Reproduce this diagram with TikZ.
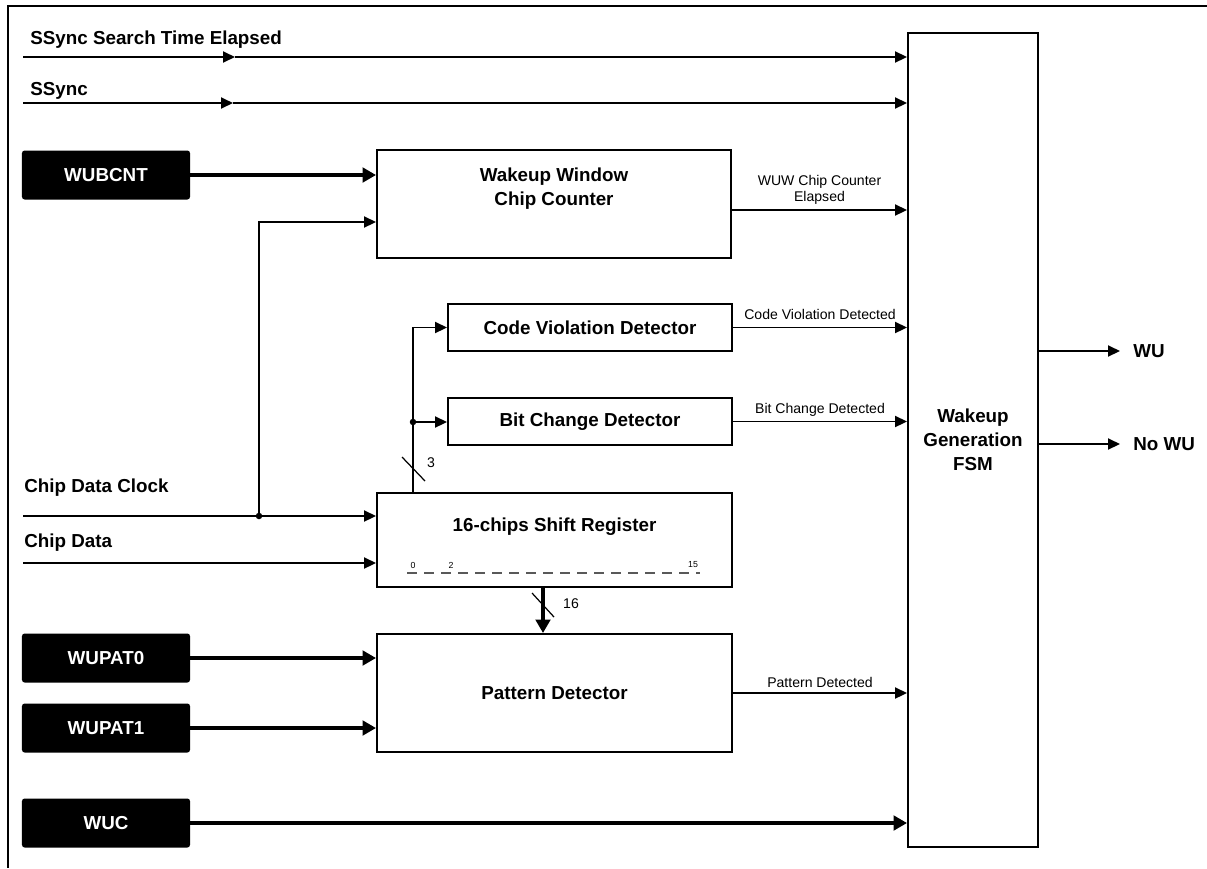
\documentclass[tikz,border=0pt]{standalone}
\usepackage{fontspec}
\setmainfont{Liberation Sans}
\usepackage{tikz}
\usetikzlibrary{arrows.meta,positioning,calc}
\tikzstyle{block} =[rectangle, draw=black, line width=1.1pt, inner sep=0pt, align=center,
                    font=\fontsize{10.7}{13.6}\selectfont\bfseries]
\tikzstyle{btext} =[inner sep=0pt, align=center, font=\fontsize{10.7}{13.6}\selectfont\bfseries]
\tikzstyle{reg}   =[rectangle, fill=black, rounded corners=1.5pt, minimum width=33.6mm,
                    minimum height=9.8mm, text=white, font=\fontsize{10.7}{12}\selectfont\bfseries]
\tikzstyle{sig}   =[anchor=west, inner sep=0pt, font=\fontsize{10.7}{12}\selectfont\bfseries]
\tikzstyle{outp}  =[sig, inner xsep=2.6mm]
\tikzstyle{note}  =[inner sep=0pt, align=center, font=\fontsize{8}{9.2}\selectfont]
\tikzstyle{tickno}=[inner sep=0pt, font=\fontsize{5}{6}\selectfont]
\tikzstyle{arr}   =[-{Triangle[length=2.4mm,width=2.2mm]}, line width=1.1pt]
\tikzstyle{bus}   =[-{Triangle[length=2.7mm,width=2.9mm]}, line width=2.3pt]

\begin{document}
\begin{tikzpicture}[x=0.2mm, y=-0.2mm]
  \useasboundingbox (0,0) rectangle (1207,868);
  \draw[line width=0.9pt] (1207,6) -- (8,6) -- (8,868);

  % ── nodes ──────────────────────────────────────────────────────────────────
  \node[reg] (wubcnt) at (106,175) {WUBCNT};
  \node[reg] (wupat0) at (106,658) {WUPAT0};
  \node[reg] (wupat1) at (106,728) {WUPAT1};
  \node[reg] (wuc)    at (106,823) {WUC};

  \node[block, minimum width=70.8mm, minimum height=21.6mm] (wwcc) at (554,204) {};
  \node[btext] (wwcctxt) at (554,189) {Wakeup Window\\Chip Counter};
  \node[block, minimum width=56.8mm, minimum height=9.4mm]  (cvd)  at (590,327.5) {Code Violation Detector};
  \node[block, minimum width=56.8mm, minimum height=9.4mm]  (bcd)  at (590,421.5) {Bit Change Detector};
  \node[block, minimum width=71mm, minimum height=18.8mm]   (sreg) at (554.5,540) {};
  \node[btext] (sregtxt) at (554.5,527) {16-chips Shift Register};
  \node[block, minimum width=71mm, minimum height=23.6mm]   (pdet) at (554.5,693) {Pattern Detector};
  \node[block, minimum width=26mm, minimum height=162.8mm]  (fsm)  at (973,440) {Wakeup\\Generation\\FSM};

  % bit positions inside the shift register
  \draw[black!65, line width=0.7pt, dash pattern=on 2mm off 1.4mm] (407,573) -- (700,573);
  \node[tickno] (b0)  at (413,565) {0};
  \node[tickno] (b2)  at (451,565) {2};
  \node[tickno] (b15) at (693,565) {15};

  % ── input signals ──────────────────────────────────────────────────────────
  \node[sig] (sste)  at (30,40)  {SSync Search Time Elapsed};
  \node[sig] (ssync) at (30,91)  {SSync};
  \node[sig] (cdclk) at (24,488) {Chip Data Clock};
  \node[sig] (cdat)  at (24,543) {Chip Data};

  \coordinate (ssteIn)  at (23,57);
  \coordinate (ssteMid) at (235,57);
  \coordinate (ssyIn)   at (23,103);
  \coordinate (ssyMid)  at (233,103);
  \coordinate (clkIn)   at (23,516);
  \coordinate (datIn)   at (23,563);
  \coordinate (jclk)    at (259,516);

  \draw[arr] (ssteIn) -- (ssteMid);
  \draw[arr] (ssteMid) -- (ssteIn -| fsm.west);
  \draw[arr] (ssyIn) -- (ssyMid);
  \draw[arr] (ssyMid) -- (ssyIn -| fsm.west);

  \draw[arr] (clkIn) -- (clkIn -| sreg.west);
  \draw[arr] (datIn) -- (datIn -| sreg.west);
  \draw[arr] (jclk) |- ($(wwcc.west)+(0,18)$);
  \fill (jclk) circle (0.65mm);

  \draw[bus] (wubcnt.east) -- (wubcnt.east -| wwcc.west);
  \draw[bus] (wupat0.east) -- (wupat0.east -| pdet.west);
  \draw[bus] (wupat1.east) -- (wupat1.east -| pdet.west);
  \draw[bus] (wuc.east)    -- (wuc.east -| fsm.west);

  % ── shift register taps ────────────────────────────────────────────────────
  \coordinate (tap) at (413,422);
  \draw[line width=1.1pt] (sreg.north -| tap) -- (tap);
  \draw[arr] (tap) -- (bcd.west |- tap);
  \draw[arr] (tap) |- (cvd.west);
  \fill (tap) circle (0.65mm);
  \draw[line width=0.7pt] (402,457) -- (425,481);
  \node[note] (w3) at (431,463) {3};

  \coordinate (busx) at (543,0);
  \draw[bus] (sreg.south -| busx) -- (pdet.north -| busx);
  \draw[line width=0.7pt] (532,593) -- (554,617);
  \node[note] (w16) at (571,604) {16};

  % ── detector outputs into the FSM ──────────────────────────────────────────
  \coordinate (wwccOut) at ($(wwcc.east)+(0,6)$);
  \draw[arr] (wwccOut) -- node[note, above=0.9mm] {WUW Chip Counter\\Elapsed} (wwccOut -| fsm.west);
  \draw[arr] (cvd.east)  -- node[note, above=1.3mm] {Code Violation Detected} (cvd.east -| fsm.west);
  \draw[arr] (bcd.east)  -- node[note, above=0.9mm] {Bit Change Detected} (bcd.east -| fsm.west);
  \draw[arr] (pdet.east) -- node[note, above=0.9mm] {Pattern Detected} (pdet.east -| fsm.west);

  % ── FSM outputs ────────────────────────────────────────────────────────────
  \node[outp] (wu)   at (1120,351) {WU};
  \node[outp] (nowu) at (1120,444) {No WU};
  \draw[arr] (fsm.east |- wu)   -- (wu.west);
  \draw[arr] (fsm.east |- nowu) -- (nowu.west);

\end{tikzpicture}
\end{document}
